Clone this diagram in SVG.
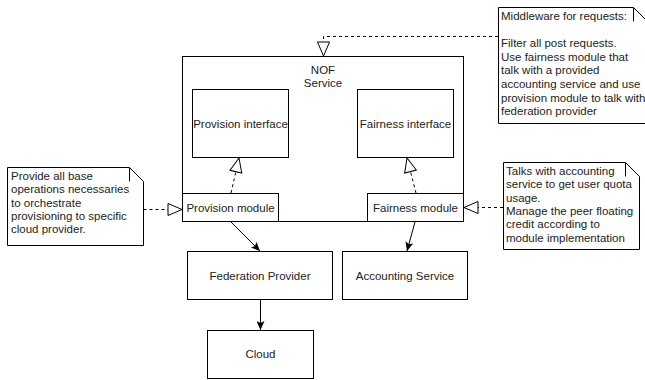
<svg xmlns="http://www.w3.org/2000/svg" width="645" height="380" viewBox="0 0 645 380">
<defs>
<style>
.box{fill:#fff;stroke:#000;stroke-width:1}
.t{font-family:"Liberation Sans",Arial,sans-serif;font-size:11.5px;fill:#222}
.c{text-anchor:middle}
.dash{fill:none;stroke:#000;stroke-width:1;stroke-dasharray:3 3}
.solid{fill:none;stroke:#000;stroke-width:1}
.fold{fill:none;stroke:#000;stroke-width:1}
</style>
<marker id="hollow" markerUnits="userSpaceOnUse" viewBox="0 0 16 14" refX="15" refY="7" markerWidth="16" markerHeight="14" orient="auto">
<path d="M1,1 L15,7 L1,13 Z" fill="#fff" stroke="#000" stroke-width="1"/>
</marker>
<marker id="filled" markerUnits="userSpaceOnUse" viewBox="0 0 10 8" refX="9" refY="4" markerWidth="10" markerHeight="8" orient="auto">
<path d="M0,0 L9,4 L0,8 L2,4 Z" fill="#000"/>
</marker>
</defs>
<rect width="645" height="380" fill="#fff"/>

<g id="nof-service">
<rect class="box" x="182.5" y="56.5" width="281" height="165"/>
<text class="t c" x="323" y="73.5">NOF</text>
<text class="t c" x="323" y="86.5">Service</text>
</g>
<g id="provision-interface">
<rect class="box" x="192.5" y="89.5" width="96" height="68"/>
<text class="t c" x="240.5" y="127.5">Provision interface</text>
</g>
<g id="fairness-interface">
<rect class="box" x="357.5" y="89.5" width="96" height="68"/>
<text class="t c" x="405.5" y="127.5">Fairness interface</text>
</g>
<g id="provision-module">
<rect class="box" x="182.5" y="193.5" width="96" height="28"/>
<text class="t c" x="230.5" y="211.5">Provision module</text>
</g>
<g id="fairness-module">
<rect class="box" x="367.5" y="193.5" width="96" height="28"/>
<text class="t c" x="415.5" y="211.5">Fairness module</text>
</g>
<g id="federation-provider">
<rect class="box" x="187.5" y="251.5" width="145" height="48"/>
<text class="t c" x="260" y="280">Federation Provider</text>
</g>
<g id="accounting-service">
<rect class="box" x="342.5" y="251.5" width="125" height="48"/>
<text class="t c" x="405" y="279.5">Accounting Service</text>
</g>
<g id="cloud">
<rect class="box" x="207.5" y="330.5" width="106" height="48"/>
<text class="t c" x="260.5" y="358">Cloud</text>
</g>

<g id="note-middleware">
<path class="box" d="M498.5,7.5 H633.5 L647.5,21.5 V123.5 H498.5 Z"/>
<path class="fold" d="M633.5,7.5 V21.5"/>
<text class="t" x="501" y="20">Middleware for requests:</text>
<text class="t" x="501" y="47.2">Filter all post requests.</text>
<text class="t" x="501" y="60.8">Use fairness module that</text>
<text class="t" x="501" y="74.4">talk with a provided</text>
<text class="t" x="501" y="88">accounting service and use</text>
<text class="t" x="501" y="101.6">provision module to talk with</text>
<text class="t" x="501" y="115.2">federation provider</text>
</g>
<g id="note-provision">
<path class="box" d="M7.5,167.5 H129.5 L143.5,181.5 V245.5 H7.5 Z"/>
<path class="fold" d="M129.5,167.5 V181.5"/>
<text class="t" x="11" y="180">Provide all base</text>
<text class="t" x="11" y="193.3">operations necessaries</text>
<text class="t" x="11" y="206.6">to orchestrate</text>
<text class="t" x="11" y="219.9">provisioning to specific</text>
<text class="t" x="11" y="233.2">cloud provider.</text>
</g>
<g id="note-fairness">
<path class="box" d="M503.5,162.5 H625.5 L639.5,176.5 V249.5 H503.5 Z"/>
<path class="fold" d="M625.5,162.5 V176.5"/>
<text class="t" x="506" y="175">Talks with accounting</text>
<text class="t" x="506" y="188.3">service to get user quota</text>
<text class="t" x="506" y="201.6">usage.</text>
<text class="t" x="506" y="214.9">Manage the peer floating</text>
<text class="t" x="506" y="228.2">credit according to</text>
<text class="t" x="506" y="241.5">module implementation</text>
</g>

<g id="connectors">
<path class="dash" d="M498,36.5 H323.5 V56" marker-end="url(#hollow)"/>
<path class="dash" d="M143.5,209.5 H182" marker-end="url(#hollow)"/>
<path class="dash" d="M503,207.5 H464" marker-end="url(#hollow)"/>
<path class="dash" d="M231,193 L239,158" marker-end="url(#hollow)"/>
<path class="dash" d="M416,193 L407,158" marker-end="url(#hollow)"/>
<path class="solid" d="M231,222 L260,251" marker-end="url(#filled)"/>
<path class="solid" d="M415,222 L407,251" marker-end="url(#filled)"/>
<path class="solid" d="M260.5,300 V330" marker-end="url(#filled)"/>
</g>
</svg>
